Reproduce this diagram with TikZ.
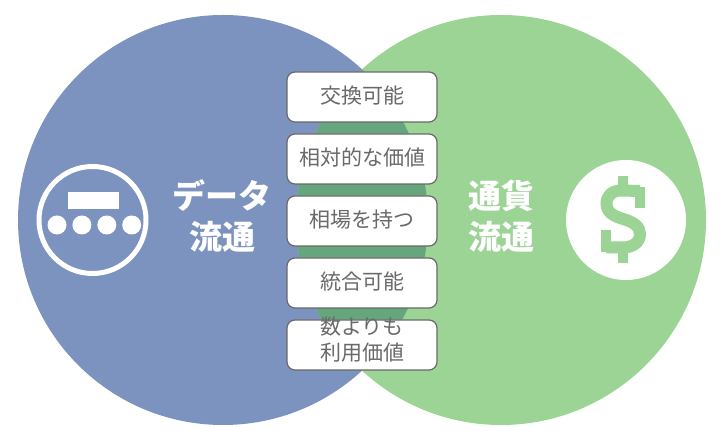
\documentclass[tikz,border=0pt]{standalone}
\usepackage{fontspec}
\setmainfont{Noto Sans CJK JP}
\usetikzlibrary{positioning}
\definecolor{datablue}{RGB}{124,146,191}
\definecolor{moneygreen}{RGB}{155,212,148}
\definecolor{lensgreen}{RGB}{101,166,125}
\definecolor{boxgray}{RGB}{105,105,105}
\tikzstyle{venn} = [circle, minimum size = 410pt, inner sep = 0pt]
\tikzstyle{block} = [draw = boxgray, fill = white, rectangle, line width = 1.2pt, rounded corners = 8pt, minimum height = 50pt, minimum width = 150pt, inner sep = 0pt, text = boxgray, align = center, font = \fontsize{21}{25}\selectfont]
\tikzstyle{oneline} = [block, text height = 20pt, text depth = 7pt]
\tikzstyle{title} = [text = white, align = center, inner sep = 0pt, font = \fontsize{33}{41}\selectfont\bfseries]
\tikzstyle{dot} = [circle, fill = white, minimum size = 19pt, inner sep = 0pt]

\begin{document}
\begin{tikzpicture}[x = 1pt, y = 1pt]
	\useasboundingbox (0, 0) rectangle (727, 435);
	
		% Circles
		\node[venn, fill = datablue] (data) at (223, 215) {};
		\node[venn, fill = moneygreen] (money) at (501, 215) {};
		\begin{scope}
			\clip (data.center) circle (205);
			\fill[lensgreen] (money.center) circle (205);
		\end{scope}
		
		% List of properties
		\node[oneline] (b1) at (362, 338) {交換可能};
		\node[oneline, below = 10.8pt of b1] (b2) {相対的な価値};
		\node[oneline, below = 10.8pt of b2] (b3) {相場を持つ};
		\node[oneline, below = 10.8pt of b3] (b4) {統合可能};
		\node[block, below = 10.8pt of b4] (b5) {\raisebox{-3pt}[25pt][25pt]{\begin{tabular}{@{}c@{}}数よりも\\[1pt]利用価値\end{tabular}}};
		
		% Titles
		\node[title] (tdata) at (222, 218.5) {データ\\流通};
		\node[title] (tmoney) at (501, 218.5) {通貨\\流通};
		
		% Data icon
		\node[circle, draw = white, line width = 5pt, minimum size = 107pt, inner sep = 0pt] (ring) at (92.5, 215) {};
		\node[rectangle, fill = white, minimum width = 51pt, minimum height = 17pt, inner sep = 0pt] (bar) at (93.5, 234.5) {};
		\node[dot] (d1) at (57, 210) {};
		\node[dot, right = 5.5pt of d1] (d2) {};
		\node[dot, right = 5.5pt of d2] (d3) {};
		\node[dot, right = 5.5pt of d3] (d4) {};
		
		% Money icon
		\node[circle, fill = white, minimum size = 120pt, inner sep = 0pt] (coin) at (626, 215) {};
		\draw[moneygreen, line width = 12pt] (640, 244) -- (621, 244.5)
		.. controls (612, 244.5) and (606.5, 239) .. (606.5, 231.5)
		.. controls (606.5, 223) and (613, 219) .. (623, 216)
		.. controls (634, 213) and (640, 208) .. (640, 201)
		.. controls (640, 193) and (633, 187.5) .. (623, 187.5) -- (606, 187.5);
		\fill[moneygreen] (618, 259) rectangle (628, 244);
		\fill[moneygreen] (618, 172) rectangle (628, 188);
		\fill[moneygreen] (635, 248) rectangle (645, 227);
		\fill[moneygreen] (601, 205) rectangle (611, 183);
		
	\end{tikzpicture}
\end{document}
